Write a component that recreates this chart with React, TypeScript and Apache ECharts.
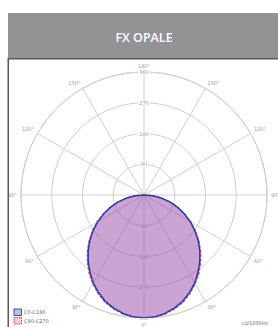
import React, { useEffect, useRef } from "react";
import * as echarts from "echarts";

const title = "FX OPALE";
const unitLabel = "cd/1000lm";
const seriesNames = ["C0-C180", "C90-C270"];
// angles (degrees from nadir) 0..90 step 5
const angles = [0, 5, 10, 15, 20, 25, 30, 35, 40, 45, 50, 55, 60, 65, 70, 75, 80, 85, 90];
const c0c180 = [360, 358, 352, 343, 331, 315, 297, 276, 254, 231, 207, 182, 156, 130, 104, 78, 52, 26, 0];
const c90c270 = [361, 359, 354, 345, 334, 318, 300, 280, 258, 235, 210, 185, 159, 132, 106, 79, 53, 26, 0];
const radiusMax = 360;
const radiusStep = 90;
const angleStep = 30;

function buildPolarData(vals: number[]) {
  const out: number[][] = [];
  for (let i = angles.length - 1; i >= 0; i--) out.push([vals[i], angles[i]]);
  for (let i = 1; i < angles.length; i++) out.push([vals[i], 360 - angles[i]]);
  return out;
}

export default function App() {
  const ref = useRef<HTMLDivElement>(null);
  useEffect(() => {
    if (!ref.current) return;
    const chart = echarts.init(ref.current, null, { renderer: "svg" });
    const center = [144, 195];
    const radius = 123;
    const gridColor = "#cfcfcf";
    const labelColor = "#9a9a9a";
    chart.setOption({
      animation: false,
      backgroundColor: "#ffffff",
      polar: [
        { center, radius },
        { center, radius },
      ],
      angleAxis: [
        {
          polarIndex: 0,
          type: "value",
          min: 0,
          max: 360,
          interval: angleStep,
          startAngle: 270,
          clockwise: true,
          axisLine: { show: true, lineStyle: { color: gridColor, width: 1 } },
          axisTick: { show: false },
          splitLine: { show: true, lineStyle: { color: gridColor, width: 1 } },
          axisLabel: {
            show: true,
            margin: 4,
            fontSize: 5,
            color: labelColor,
            fontFamily: "DejaVu Sans",
            formatter: (v: number) => (v === 360 ? "" : (v <= 180 ? v : 360 - v) + "°"),
          },
        },
        {
          polarIndex: 1,
          type: "value",
          min: 0,
          max: 360,
          startAngle: 90,
          show: false,
        },
      ],
      radiusAxis: [
        {
          polarIndex: 0,
          type: "value",
          min: 0,
          max: radiusMax,
          interval: radiusStep,
          axisLine: { show: false },
          axisTick: { show: false },
          splitLine: { show: true, lineStyle: { color: gridColor, width: 1 } },
          axisLabel: {
            show: true,
            margin: 0,
            align: "center",
            verticalAlign: "middle",
            fontSize: 5,
            color: labelColor,
            fontFamily: "DejaVu Sans",
            backgroundColor: "rgba(255,255,255,0.9)",
            padding: [0, 1],
            showMinLabel: false,
          },
        },
        {
          polarIndex: 1,
          type: "value",
          min: 0,
          max: radiusMax,
          interval: radiusStep,
          axisLine: { show: false },
          axisTick: { show: false },
          splitLine: { show: false },
          axisLabel: {
            show: true,
            margin: 0,
            align: "center",
            verticalAlign: "middle",
            fontSize: 5,
            color: labelColor,
            fontFamily: "DejaVu Sans",
            backgroundColor: "#ffffff",
            padding: [0, 1],
            showMinLabel: false,
          },
        },
      ],
      series: [
        {
          name: seriesNames[1],
          type: "line",
          coordinateSystem: "polar",
          polarIndex: 0,
          data: buildPolarData(c90c270),
          symbol: "none",
          lineStyle: { color: "#e23a3a", width: 1.2, type: [3, 1.5] },
          areaStyle: { color: "rgba(190,90,170,0.3)" },
          z: 3,
        },
        {
          name: seriesNames[0],
          type: "line",
          coordinateSystem: "polar",
          polarIndex: 0,
          data: buildPolarData(c0c180),
          symbol: "none",
          lineStyle: { color: "#2a3ab8", width: 1.5 },
          areaStyle: { color: "rgba(130,60,160,0.5)" },
          z: 4,
        },
      ],
      graphic: [
        { type: "rect", shape: { x: 8, y: 13, width: 270, height: 45 }, style: { fill: "#939396" }, z: 10 },
        { type: "rect", shape: { x: 8, y: 58, width: 270, height: 1.5 }, style: { fill: "#5a5a5c" }, z: 10 },
        { type: "rect", shape: { x: 7.5, y: 58, width: 1.5, height: 269 }, style: { fill: "#5a5a5c" }, z: 10 },
        {
          type: "text",
          x: 144,
          y: 37,
          style: {
            text: title,
            fill: "#ffffff",
            font: "600 12.5px 'Open Sans'",
            align: "center",
            verticalAlign: "middle",
          },
          z: 11,
        },
        {
          type: "rect",
          shape: { x: 14, y: 309, width: 7.5, height: 6.5 },
          style: { fill: "rgba(140,150,215,0.6)", stroke: "#3a4cc0", lineWidth: 1 },
          z: 10,
        },
        {
          type: "rect",
          shape: { x: 14, y: 317.5, width: 7.5, height: 6.5 },
          style: { fill: "rgba(240,170,170,0.6)", stroke: "#e23a3a", lineWidth: 1, lineDash: [1.5, 1] },
          z: 10,
        },
        {
          type: "text",
          x: 24,
          y: 312.3,
          style: { text: seriesNames[0], fill: "#666", font: "5px 'DejaVu Sans'", verticalAlign: "middle" },
          z: 10,
        },
        {
          type: "text",
          x: 24,
          y: 320.8,
          style: { text: seriesNames[1], fill: "#666", font: "5px 'DejaVu Sans'", verticalAlign: "middle" },
          z: 10,
        },
        {
          type: "text",
          x: 268,
          y: 323,
          style: { text: unitLabel, fill: "#666", font: "5px 'DejaVu Sans'", align: "right", verticalAlign: "middle" },
          z: 10,
        },
      ],
    });
    return () => chart.dispose();
  }, []);
  return (
    <div
      ref={ref}
      style={{ position: "fixed", left: 0, top: 0, width: 278, height: 327, background: "#fff" }}
    />
  );
}
